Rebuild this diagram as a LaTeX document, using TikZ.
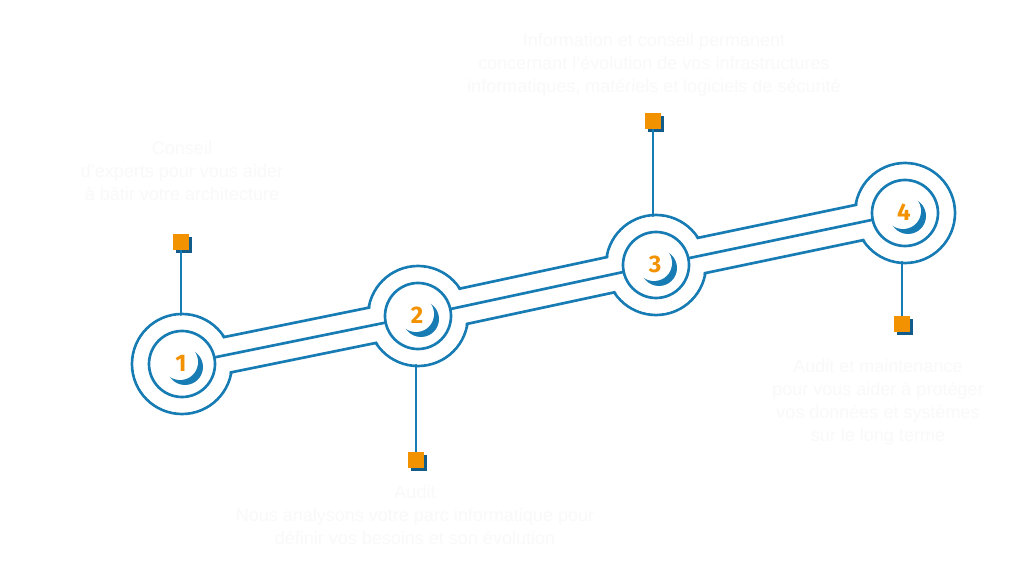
\documentclass[tikz,border=0pt]{standalone}
\usepackage{fontspec}
\setmainfont{Liberation Sans}
\newfontfamily\stepfont{Fira Sans}
\usetikzlibrary{calc}
\usetikzlibrary{shadows}

\definecolor{ringblue}{RGB}{24,124,180}
\definecolor{shadeblue}{RGB}{18,92,140}
\definecolor{steporange}{RGB}{243,146,0}
\definecolor{ghostgray}{RGB}{249,249,249}

\tikzset{
  ring/.style={draw=ringblue, line width=2pt},
  pipeline/.style={draw=ringblue, line width=2pt},
  stemline/.style={draw=ringblue, line width=2pt},
  eraser/.style={fill=white},
  stepnum/.style={text=steporange, font=\stepfont\bfseries\fontsize{18}{18}\selectfont, inner sep=0pt},
  marker/.style={fill=steporange, minimum size=12pt, inner sep=0pt,
    drop shadow={shadow xshift=2pt, shadow yshift=-2pt, fill=shadeblue, opacity=1}},
  ghosttext/.style={text=ghostgray, align=center, font=\fontsize{13.5}{17.3}\selectfont},
}

\begin{document}
\begin{tikzpicture}[x=0.75pt,y=0.75pt,yscale=-1,xscale=1]
\useasboundingbox (0,0) rectangle (1024,584);
\fill[white] (0,0) rectangle (1024,584);

% centres of the four steps
\coordinate (c1) at (182,364);
\coordinate (c2) at (418,316);
\coordinate (c3) at (656,265);
\coordinate (c4) at (905,213);

% markers
\node[marker] (s1) at (181,242) {};
\node[marker] (s2) at (416,460) {};
\node[marker] (s3) at (653,121) {};
\node[marker] (s4) at (902,324) {};

% stems
\draw[stemline] (s1) -- (s1 |- c1);
\draw[stemline] (s2) -- (s2 |- c2);
\draw[stemline] (s3) -- (s3 |- c3);
\draw[stemline] (s4) -- (s4 |- c4);

% outer rings
\foreach \c in {c1,c2,c3,c4}
  \draw[ring] (\c) circle (50);

% pipe openings
\draw[white, line width=27pt] (c1) -- (c2) -- (c3) -- (c4);

% pipe edges
\draw[pipeline] ($(c1)!13.5pt!90:(c2)$) -- ($(c2)!13.5pt!-90:(c1)$);
\draw[pipeline] ($(c1)!13.5pt!-90:(c2)$) -- ($(c2)!13.5pt!90:(c1)$);
\draw[pipeline] ($(c2)!13.5pt!90:(c3)$) -- ($(c3)!13.5pt!-90:(c2)$);
\draw[pipeline] ($(c2)!13.5pt!-90:(c3)$) -- ($(c3)!13.5pt!90:(c2)$);
\draw[pipeline] ($(c3)!13.5pt!90:(c4)$) -- ($(c4)!13.5pt!-90:(c3)$);
\draw[pipeline] ($(c3)!13.5pt!-90:(c4)$) -- ($(c4)!13.5pt!90:(c3)$);

\foreach \c in {c1,c2,c3,c4}{
  \fill[eraser] (\c) circle (48.3);
}

% inner rings with crescent
\foreach \c in {c1,c2,c3,c4}{
  \draw[ring] (\c) circle (33);
  \fill[ringblue] ($(\c)+(3,3)$) circle (18);
  \fill[eraser] ($(\c)+(-2,-2)$) circle (18);
}

% middle lines, inner ring to inner ring
\draw[pipeline] ($(c1)!24.75pt!(c2)$) -- ($(c2)!24.75pt!(c1)$);
\draw[pipeline] ($(c2)!24.75pt!(c3)$) -- ($(c3)!24.75pt!(c2)$);
\draw[pipeline] ($(c3)!24.75pt!(c4)$) -- ($(c4)!24.75pt!(c3)$);

% numbers
\node[stepnum] (n1) at ($(c1)+(-1,-1)$) {1};
\node[stepnum] (n2) at ($(c2)+(-1,-1)$) {2};
\node[stepnum] (n3) at ($(c3)+(-1,-1)$) {3};
\node[stepnum] (n4) at ($(c4)+(-1,-1)$) {4};

% texts
\node[ghosttext] (t3) at (654,65) {Information et conseil permanent\\concernant l'évolution de vos infrastructures\\informatiques, matériels et logiciels de sécurité};
\node[ghosttext] (t1) at (182,171) {Conseil\\d'experts pour vous aider\\à bâtir votre architecture};
\node[ghosttext] (t4) at (878,402) {Audit et maintenance\\pour vous aider à protéger\\vos données et systèmes\\sur le long terme};
\node[ghosttext] (t2) at (415,515) {Audit\\Nous analysons votre parc informatique pour\\définir vos besoins et son évolution};

\end{tikzpicture}
\end{document}
